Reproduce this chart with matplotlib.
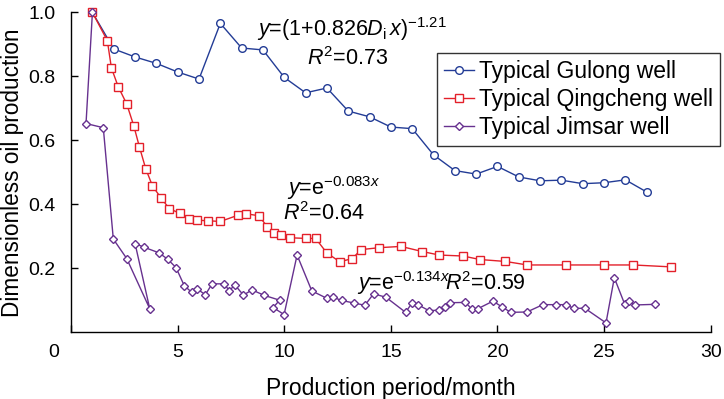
import matplotlib
matplotlib.use("Agg")
import matplotlib.pyplot as plt
from matplotlib.transforms import ScaledTranslation

plt.rcParams['font.family'] = ['Liberation Sans', 'DejaVu Sans']
plt.rcParams['mathtext.fontset'] = 'custom'
plt.rcParams['mathtext.rm'] = 'Liberation Sans'
plt.rcParams['mathtext.it'] = 'Liberation Sans:italic'
plt.rcParams['mathtext.bf'] = 'Liberation Sans:bold'

# ---- data ----
gulong_x = list(range(1, 28))
gulong_y = [1.0, 0.886, 0.861, 0.841, 0.814, 0.792, 0.966, 0.889, 0.883, 0.797,
            0.749, 0.764, 0.692, 0.674, 0.642, 0.637, 0.555, 0.506, 0.495, 0.519,
            0.486, 0.474, 0.476, 0.465, 0.468, 0.477, 0.439]

qing_x = [1.0, 1.70, 1.89, 2.21, 2.61, 2.94, 3.20, 3.50, 3.81, 4.22, 4.61, 5.11,
          5.52, 5.91, 6.44, 7.0, 7.81, 8.20, 8.80, 9.20, 9.52, 9.86, 10.27, 11.0,
          11.47, 11.99, 12.6, 13.19, 13.6, 14.45, 15.47, 16.47, 17.27, 18.38,
          19.18, 20.37, 21.40, 23.20, 24.98, 26.37, 28.15]
qing_y = [1.0, 0.912, 0.827, 0.768, 0.714, 0.646, 0.581, 0.512, 0.459, 0.420,
          0.387, 0.372, 0.356, 0.351, 0.349, 0.347, 0.366, 0.371, 0.365, 0.331,
          0.310, 0.305, 0.296, 0.294, 0.294, 0.249, 0.221, 0.231, 0.259, 0.265,
          0.269, 0.253, 0.242, 0.239, 0.228, 0.222, 0.211, 0.211, 0.211, 0.211,
          0.205]

jim_x = [1.0, 0.70, 1.51, 1.98, 2.61, 3.69, 3.0, 3.40, 4.12, 4.53, 4.92, 5.31,
         5.67, 5.89, 6.30, 6.61, 7.19, 7.41, 7.69, 8.08, 8.49, 9.06, 9.78, 9.48,
         9.99, 10.6, 11.29, 11.99, 12.30, 12.69, 13.28, 13.78, 14.19, 14.77,
         15.69, 15.98, 16.29, 16.79, 17.26, 17.54, 17.77, 18.49, 18.79, 19.07,
         19.79, 20.21, 20.62, 21.38, 22.13, 22.74, 23.20, 23.59, 24.09, 25.09,
         25.48, 25.97, 26.17, 26.46, 27.39]
jim_y = [1.0, 0.653, 0.640, 0.292, 0.231, 0.074, 0.278, 0.267, 0.249, 0.229,
         0.203, 0.146, 0.125, 0.137, 0.118, 0.152, 0.152, 0.131, 0.148, 0.117,
         0.133, 0.116, 0.101, 0.078, 0.056, 0.242, 0.130, 0.107, 0.110, 0.100,
         0.092, 0.085, 0.121, 0.110, 0.063, 0.091, 0.086, 0.068, 0.070, 0.081,
         0.093, 0.094, 0.074, 0.074, 0.098, 0.080, 0.063, 0.064, 0.087, 0.087,
         0.087, 0.075, 0.076, 0.030, 0.171, 0.088, 0.099, 0.086, 0.088]

series_labels = ["Typical Gulong well", "Typical Qingcheng well", "Typical Jimsar well"]
x_ticks = [0, 5, 10, 15, 20, 25, 30]
y_ticks = [0.2, 0.4, 0.6, 0.8, 1.0]

c_blue = '#233c96'
c_red = '#e3202a'
c_purple = '#67318f'

fig = plt.figure(figsize=(7.24, 3.99), dpi=100)
ax = fig.add_axes([0.0982, 0.1667, 0.8834, 0.802])

ax.plot(gulong_x, gulong_y, color=c_blue, lw=1.0, marker='o', ms=5.5,
        mfc='white', mec=c_blue, mew=1.0, label=series_labels[0], clip_on=False)
ax.plot(qing_x, qing_y, color=c_red, lw=1.0, marker='s', ms=5.5,
        mfc='white', mec=c_red, mew=1.0, label=series_labels[1], clip_on=False)
ax.plot(jim_x, jim_y, color=c_purple, lw=1.0, marker='D', ms=4,
        mfc='white', mec=c_purple, mew=1.0, label=series_labels[2], clip_on=False)

ax.set_xlim(0, 30)
ax.set_ylim(0, 1.0)
ax.set_xticks(x_ticks)
ax.set_xticklabels([str(v) for v in x_ticks])
ax.set_yticks(y_ticks)
ax.set_yticklabels([f"{v:.1f}" for v in y_ticks])
for s in ['top', 'right']:
    ax.spines[s].set_visible(False)
for s in ['left', 'bottom']:
    ax.spines[s].set_linewidth(1.0)
ax.tick_params(axis='x', direction='in', length=5, width=1.0, labelsize=14, pad=8)
ax.tick_params(axis='y', direction='in', length=5, width=1.0, labelsize=14, pad=11)

# shift corner "0" label to the left
lbl0 = ax.get_xticklabels()[0]
lbl0.set_transform(lbl0.get_transform() + ScaledTranslation(-0.17, 0, fig.dpi_scale_trans))

ax.set_xlabel("Production period/month", fontsize=16.5)
ax.set_ylabel("Dimensionless oil production", fontsize=16.3)
ax.xaxis.set_label_coords(0.5, -0.14)
ax.yaxis.set_label_coords(-0.074, 0.5)

# annotations
fs_ann = 15.5
ax.text(8.72, 0.925, r'$y$=(1+0.826$D_{\mathrm{i}}\,x$)$^{-1.21}$', fontsize=fs_ann, va='baseline')
ax.text(11.07, 0.837, r'$R^{\mathrm{2}}$=0.73', fontsize=fs_ann, va='baseline')
ax.text(10.13, 0.430, r'$y$=e$^{-0.083x}$', fontsize=fs_ann, va='baseline')
ax.text(9.94, 0.350, r'$R^{\mathrm{2}}$=0.64', fontsize=fs_ann, va='baseline')
ax.text(13.40, 0.133, r'$y$=e$^{-0.134x}$', fontsize=fs_ann, va='baseline')
ax.text(17.55, 0.133, r'$R^{\mathrm{2}}$=0.59', fontsize=fs_ann, va='baseline')

leg = ax.legend(loc='upper left', bbox_to_anchor=(0.6036, 0.8672),
                bbox_transform=fig.transFigure, fontsize=16.5, frameon=True,
                fancybox=False, edgecolor='black', borderaxespad=0,
                borderpad=0.3, handlelength=1.3, handletextpad=0.25,
                labelspacing=0.22)
leg.get_frame().set_linewidth(1.0)

fig.savefig("out.png", dpi=100)
